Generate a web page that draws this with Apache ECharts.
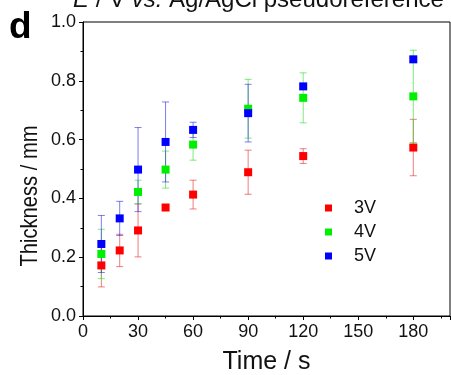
<!DOCTYPE html>
<html>
<head>
<meta charset="utf-8">
<script src="https://cdn.jsdelivr.net/npm/echarts@6/dist/echarts.min.js"></script>
<style>
html, body { margin: 0; padding: 0; background: #fff; }
#chart { width: 451px; height: 375px; }
</style>
</head>
<body>
<div id="chart"></div>
<script>
// time points (s) and thickness (mm) for each voltage, with +/- error
const times = [10, 20, 30, 45, 60, 90, 120, 180];
const v3 = [0.172, 0.223, 0.291, 0.369, 0.413, 0.489, 0.544, 0.573];
const v3Err = [0.073, 0.055, 0.090, 0.008, 0.049, 0.075, 0.025, 0.096];
const v4 = [0.211, null, 0.422, 0.498, 0.583, 0.705, 0.742, 0.747];
const v4Err = [0.084, null, 0.040, 0.063, 0.053, 0.100, 0.085, 0.157];
const v5 = [0.245, 0.332, 0.498, 0.592, 0.633, 0.690, 0.781, 0.873];
const v5Err = [0.097, 0.058, 0.143, 0.136, 0.026, 0.098, 0.010, 0.010];
const names = ['3V', '4V', '5V'];
const colors = ['#ff0000', '#00ee00', '#0000ff'];
const barColors = ['rgba(230,40,40,0.6)', 'rgba(40,220,40,0.6)', 'rgba(40,40,230,0.6)'];

const font = "'Liberation Sans', Arial, sans-serif";
const chart = echarts.init(document.getElementById('chart'));

function points(vals) {
    let out = [];
    times.forEach((t, i) => { if (vals[i] != null) out.push([t, vals[i]]); });
    return out;
}
function bars(vals, errs) {
    let out = [];
    times.forEach((t, i) => {
        if (vals[i] != null) out.push([t, vals[i] - errs[i], vals[i] + errs[i]]);
    });
    return out;
}
function renderErr(color) {
    return function (params, api) {
        let lo = api.coord([api.value(0), api.value(1)]);
        let hi = api.coord([api.value(0), api.value(2)]);
        let w = 3.5;
        let st = { stroke: color, lineWidth: 1 };
        return {
            type: 'group',
            children: [
                { type: 'line', shape: { x1: lo[0], y1: lo[1], x2: hi[0], y2: hi[1] }, style: st },
                { type: 'line', shape: { x1: lo[0] - w, y1: lo[1], x2: lo[0] + w, y2: lo[1] }, style: st },
                { type: 'line', shape: { x1: hi[0] - w, y1: hi[1], x2: hi[0] + w, y2: hi[1] }, style: st }
            ]
        };
    };
}

const vals = [v3, v4, v5];
const errs = [v3Err, v4Err, v5Err];
let series = [];
vals.forEach((v, i) => {
    series.push({
        name: names[i] + ' err',
        type: 'custom',
        z: 1,
        renderItem: renderErr(barColors[i]),
        encode: { x: 0, y: [1, 2] },
        data: bars(v, errs[i])
    });
});
vals.forEach((v, i) => {
    series.push({
        name: names[i],
        type: 'scatter',
        z: 2,
        symbol: 'rect',
        symbolSize: 8,
        itemStyle: { color: colors[i], opacity: 1 },
        data: points(v)
    });
});

chart.setOption({
    animation: false,
    textStyle: { fontFamily: font },
    grid: {
        left: 83, right: 1, top: 22, bottom: 59,
        outerBoundsMode: 'none',
        show: true, borderColor: '#000', borderWidth: 1
    },
    legend: {
        data: names,
        orient: 'vertical',
        left: 320,
        top: 194,
        icon: 'rect',
        itemWidth: 7,
        itemHeight: 7,
        itemGap: 6,
        textStyle: { fontFamily: font, fontSize: 18, color: '#111', padding: [0, 0, 0, 17] }
    },
    xAxis: {
        type: 'value',
        min: 0, max: 200, interval: 30,
        name: 'Time / s',
        nameLocation: 'middle',
        nameGap: 34,
        nameTextStyle: { fontFamily: font, fontSize: 25, color: '#111' },
        axisLine: { lineStyle: { color: '#000', width: 1 } },
        axisTick: { length: 4, lineStyle: { color: '#000' } },
        minorTick: { show: true, splitNumber: 2, length: 2.5, lineStyle: { color: '#000' } },
        axisLabel: { fontFamily: font, fontSize: 18, color: '#111', margin: 7, showMaxLabel: false },
        splitLine: { show: false }
    },
    yAxis: {
        type: 'value',
        min: 0, max: 1, interval: 0.2,
        axisLine: { show: true, lineStyle: { color: '#000', width: 1 } },
        axisTick: { show: true, length: 4, lineStyle: { color: '#000' } },
        minorTick: { show: true, splitNumber: 2, length: 2.5, lineStyle: { color: '#000' } },
        axisLabel: { fontFamily: font, fontSize: 18, color: '#111', margin: 7, formatter: v => v.toFixed(1) },
        splitLine: { show: false }
    },
    graphic: [
        {
            type: 'text', left: 73, top: -12,
            style: {
                text: '{i|E} / V {i|vs.} Ag/AgCl pseudoreference',
                font: '24px ' + font, fill: '#111',
                rich: { i: { fontStyle: 'italic', fontSize: 24, fontFamily: font } }
            }
        },
        {
            type: 'text', left: 9, top: 9,
            style: { text: 'd', font: 'bold 37px ' + font, fill: '#000' }
        },
        {
            type: 'text', x: 30, y: 196, rotation: Math.PI / 2, scaleX: 0.84,
            style: {
                text: 'Thickness / mm', font: '24px ' + font, fill: '#111',
                align: 'center', verticalAlign: 'middle'
            }
        }
    ],
    series: series
});
</script>
</body>
</html>
